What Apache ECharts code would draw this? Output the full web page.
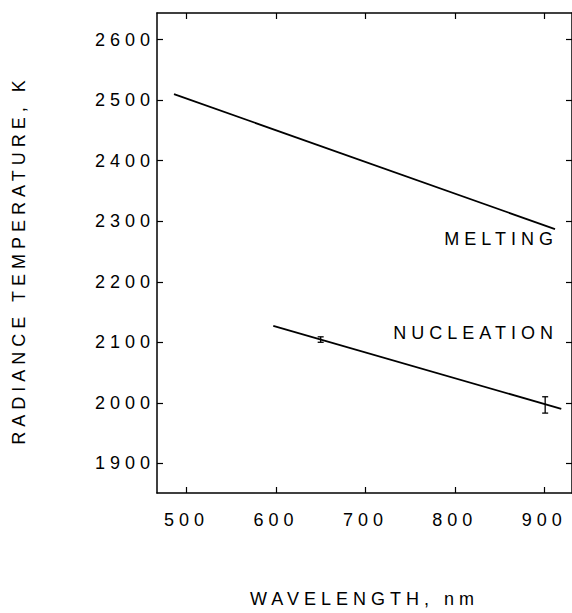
<!DOCTYPE html>
<html>
<head>
<meta charset="utf-8">
<script src="https://cdn.jsdelivr.net/npm/echarts@6/dist/echarts.min.js"></script>
<style>
  html, body { margin: 0; padding: 0; background: #fff; }
  #main { width: 572px; height: 613px; letter-spacing: 5px; }
</style>
</head>
<body>
<div id="main"></div>
<script>
// tick values
var xTicks = [500, 600, 700, 800, 900]
var yTicks = [1900, 2000, 2100, 2200, 2300, 2400, 2500, 2600]

// melting curve (wavelength nm, radiance temp K)
var meltX = [486, 912]
var meltY = [2510, 2287]

// nucleation curve
var nucX = [597, 919]
var nucY = [2127, 1990]

// error bars on nucleation: wavelength, low, high
var errX = [650, 901]
var errLow = [2100, 1983]
var errHigh = [2109, 2010]

var myChart = echarts.init(document.getElementById('main'), null, { renderer: 'svg' });

var meltData = [], nucData = [], errData = []
for (var i = 0; i < meltX.length; i++) meltData.push([meltX[i], meltY[i]])
for (var i = 0; i < nucX.length; i++) nucData.push([nucX[i], nucY[i]])
for (var i = 0; i < errX.length; i++) errData.push([errX[i], errLow[i], errHigh[i]])

var font = 'Liberation Sans, Arial, sans-serif'
var fs = 18
var lineStyle = { color: '#000', width: 1.5 }
var plain = function (v) { return String(v) }

option = {
    backgroundColor: '#fff',
    animation: false,
    grid: { left: 157, top: 13, right: 0, bottom: 116 },
    xAxis: [{
        type: 'value', min: 467, max: 931,
        axisLine: { lineStyle: lineStyle },
        axisTick: { inside: true, length: 6, customValues: xTicks, lineStyle: { color: '#000', width: 1.2 } },
        axisLabel: { customValues: xTicks, formatter: plain, color: '#000', fontSize: fs, fontFamily: font, margin: 18 },
        splitLine: { show: false },
        name: 'WAVELENGTH, nm', nameLocation: 'middle', nameGap: 97,
        nameTextStyle: { color: '#000', fontSize: fs, fontFamily: font }
    }, {
        type: 'value', position: 'top', min: 467, max: 931,
        axisLine: { lineStyle: lineStyle },
        axisTick: { inside: true, length: 6, customValues: xTicks, lineStyle: { color: '#000', width: 1.2 } },
        axisLabel: { show: false },
        splitLine: { show: false }
    }],
    yAxis: [{
        type: 'value', min: 1851, max: 2644,
        axisLine: { show: true, lineStyle: lineStyle },
        axisTick: { show: true, inside: true, length: 6, customValues: yTicks, lineStyle: { color: '#000', width: 1.2 } },
        axisLabel: { customValues: yTicks, formatter: plain, color: '#000', fontSize: fs, fontFamily: font, margin: 2 },
        splitLine: { show: false }
    }, {
        type: 'value', position: 'right', min: 1851, max: 2644,
        axisLine: { show: true, lineStyle: lineStyle },
        axisTick: { show: true, inside: true, length: 6, customValues: yTicks, lineStyle: { color: '#000', width: 1.2 } },
        axisLabel: { show: false },
        splitLine: { show: false }
    }],
    graphic: [{
        type: 'text', x: 19, y: 260, rotation: Math.PI / 2,
        style: { text: 'RADIANCE TEMPERATURE, K', fill: '#000', font: fs + 'px ' + font, align: 'center', verticalAlign: 'middle' }
    }, {
        type: 'text', x: 558, y: 239,
        style: { text: 'MELTING', fill: '#000', font: fs + 'px ' + font, align: 'right', verticalAlign: 'middle' }
    }, {
        type: 'text', x: 558, y: 333,
        style: { text: 'NUCLEATION', fill: '#000', font: fs + 'px ' + font, align: 'right', verticalAlign: 'middle' }
    }],
    series: [{
        name: 'melting', type: 'line', data: meltData, symbol: 'none',
        lineStyle: { color: '#000', width: 1.8 }
    }, {
        name: 'nucleation', type: 'line', data: nucData, symbol: 'none',
        lineStyle: { color: '#000', width: 1.8 }
    }, {
        name: 'error', type: 'custom', data: errData,
        renderItem: function (params, api) {
            var lo = api.coord([api.value(0), api.value(1)])
            var hi = api.coord([api.value(0), api.value(2)])
            var w = 3
            return {
                type: 'group',
                children: [
                    { type: 'line', shape: { x1: lo[0], y1: lo[1], x2: hi[0], y2: hi[1] }, style: { stroke: '#000', lineWidth: 1.3 } },
                    { type: 'line', shape: { x1: lo[0] - w, y1: lo[1], x2: lo[0] + w, y2: lo[1] }, style: { stroke: '#000', lineWidth: 1.3 } },
                    { type: 'line', shape: { x1: hi[0] - w, y1: hi[1], x2: hi[0] + w, y2: hi[1] }, style: { stroke: '#000', lineWidth: 1.3 } }
                ]
            }
        }
    }]
};

myChart.setOption(option);
</script>
</body>
</html>
